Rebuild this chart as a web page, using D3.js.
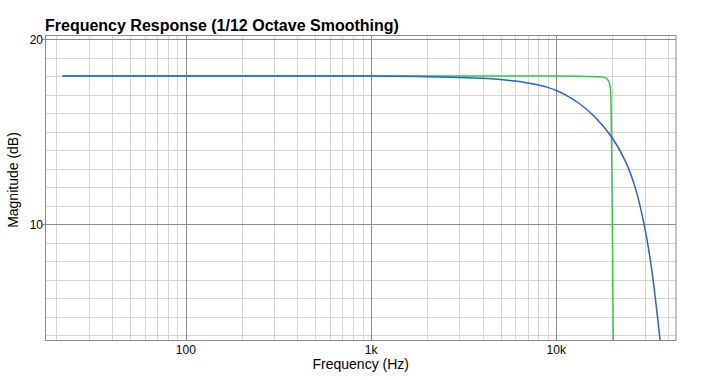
<!DOCTYPE html>
<html>
<head>
<meta charset="utf-8">
<script src="https://cdn.jsdelivr.net/npm/d3@7"></script>
<style>
  body { margin: 0; background: #fff; }
  text { font-family: "Liberation Sans", Arial, Helvetica, sans-serif; fill: #000; }
</style>
</head>
<body>
<div id="chart"></div>
<script>
// values
const xDomain = [17.47, 44300];
const yDomain = [3.73, 20.19];
const xMajorTicks = [100, 1000, 10000];
const xTickLabels = ['100', '1k', '10k'];
const yMajorTicks = [10, 20];

const blueFreq = [21.6, 1000, 2000, 3000, 4000, 5000, 6000, 7000, 8000, 9000, 10000, 11140, 13150, 16180, 19910, 23490, 26610, 29770, 32760, 36310, 37000];
const blueDb   = [18.0, 18.0, 17.97, 17.93, 17.88, 17.81, 17.73, 17.63, 17.52, 17.39, 17.22, 17.0, 16.56, 15.79, 14.71, 13.45, 12.02, 10.01, 7.56, 3.79, 3.0];

const greenFreq = [21.6, 1000, 10000, 17000, 18200, 19100, 19500, 19700, 19850, 20000, 20150, 20300, 20400];
const greenDb   = [18.0, 18.0, 18.0, 17.97, 17.93, 17.75, 17.5, 17.0, 15.0, 12.0, 8.0, 4.0, 2.5];

const W = 709, H = 380;
const margin = { left: 45.5, right: 33, top: 35.5, bottom: 39.5 };

const svg = d3.select('#chart').append('svg')
    .attr('width', W)
    .attr('height', H);

const x = d3.scaleLog().domain(xDomain).range([margin.left, W - margin.right]);
const y = d3.scaleLinear().domain(yDomain).range([H - margin.bottom, margin.top]);

// minor grid
const xMinor = [];
[10, 100, 1000, 10000].forEach(d => {
    for (let k = 2; k <= 9; k++) {
        const v = d * k;
        if (v > xDomain[0] && v < xDomain[1]) xMinor.push(v);
    }
});
const yMinor = d3.range(4, 21).filter(v => v % 10 !== 0);

const grid = svg.append('g');
grid.selectAll('line.xminor').data(xMinor).join('line')
    .attr('class', 'xminor')
    .attr('x1', d => Math.round(x(d)) + 0.5).attr('x2', d => Math.round(x(d)) + 0.5)
    .attr('y1', y.range()[1]).attr('y2', y.range()[0])
    .attr('stroke', '#d4d4d4');
grid.selectAll('line.yminor').data(yMinor).join('line')
    .attr('class', 'yminor')
    .attr('y1', d => Math.round(y(d)) + 0.5).attr('y2', d => Math.round(y(d)) + 0.5)
    .attr('x1', x.range()[0]).attr('x2', x.range()[1])
    .attr('stroke', '#d4d4d4');
grid.selectAll('line.xmajor').data(xMajorTicks).join('line')
    .attr('class', 'xmajor')
    .attr('x1', d => Math.round(x(d)) + 0.5).attr('x2', d => Math.round(x(d)) + 0.5)
    .attr('y1', y.range()[1]).attr('y2', y.range()[0])
    .attr('stroke', '#8c8c8c');
grid.selectAll('line.ymajor').data(yMajorTicks).join('line')
    .attr('class', 'ymajor')
    .attr('y1', d => Math.round(y(d)) + 0.5).attr('y2', d => Math.round(y(d)) + 0.5)
    .attr('x1', x.range()[0] - 3).attr('x2', x.range()[1])
    .attr('stroke', '#8c8c8c');

// frame
svg.append('rect')
    .attr('x', x.range()[0]).attr('y', y.range()[1])
    .attr('width', x.range()[1] - x.range()[0])
    .attr('height', y.range()[0] - y.range()[1])
    .attr('fill', 'none')
    .attr('stroke', '#8c8c8c');

// tick labels
svg.append('g').selectAll('text').data(xMajorTicks).join('text')
    .attr('x', d => x(d))
    .attr('y', 353.5)
    .attr('text-anchor', 'middle')
    .style('font-size', '12px')
    .text((d, i) => xTickLabels[i]);
svg.append('g').selectAll('text').data(yMajorTicks).join('text')
    .attr('x', 43)
    .attr('y', d => y(d) + 4.5)
    .attr('text-anchor', 'end')
    .style('font-size', '12px')
    .text(d => d);

// titles
svg.append('text')
    .attr('x', 45)
    .attr('y', 30.5)
    .style('font-size', '16px')
    .style('font-weight', 'bold')
    .text('Frequency Response (1/12 Octave Smoothing)');
svg.append('text')
    .attr('x', (x.range()[0] + x.range()[1]) / 2)
    .attr('y', 368.5)
    .attr('text-anchor', 'middle')
    .style('font-size', '14px')
    .text('Frequency (Hz)');
svg.append('text')
    .attr('transform', 'translate(18,180) rotate(-90)')
    .attr('text-anchor', 'middle')
    .style('font-size', '14px')
    .text('Magnitude (dB)');

// curves
svg.append('clipPath').attr('id', 'plot-clip')
    .append('rect')
    .attr('x', x.range()[0]).attr('y', y.range()[1])
    .attr('width', x.range()[1] - x.range()[0])
    .attr('height', y.range()[0] - y.range()[1]);

const line = d3.line()
    .x(d => x(d[0]))
    .y(d => y(d[1]));

const curves = svg.append('g').attr('clip-path', 'url(#plot-clip)');
curves.append('path')
    .datum(d3.zip(greenFreq, greenDb))
    .attr('d', line.curve(d3.curveMonotoneX))
    .attr('fill', 'none')
    .attr('stroke', '#2ccc45')
    .attr('stroke-width', 1.5);
curves.append('path')
    .datum(d3.zip(blueFreq, blueDb))
    .attr('d', line.curve(d3.curveCatmullRom.alpha(0.5)))
    .attr('fill', 'none')
    .attr('stroke', '#2463d8')
    .attr('stroke-width', 1.5);
</script>
</body>
</html>
